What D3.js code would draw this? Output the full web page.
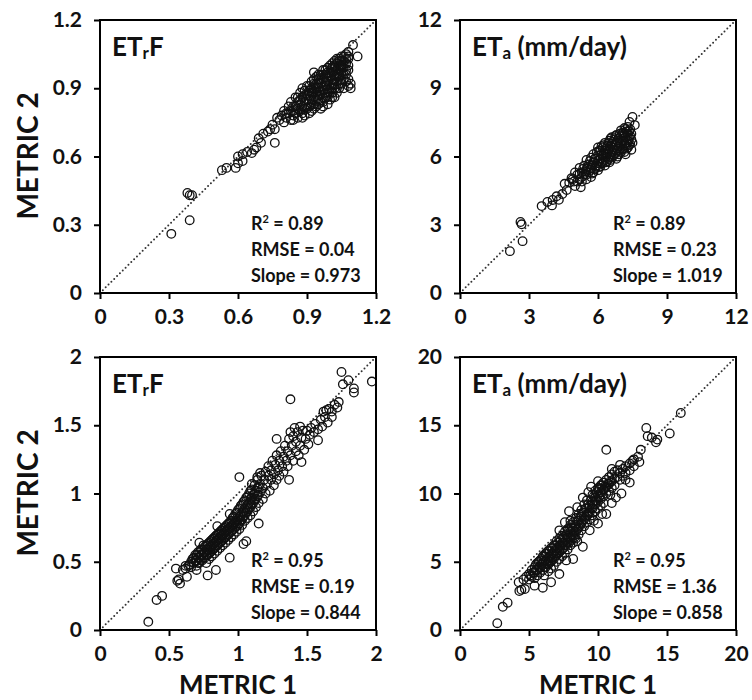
<!DOCTYPE html>
<html>
<head>
<meta charset="utf-8">
<script src="https://cdn.jsdelivr.net/npm/d3@7"></script>
<style>
  body { margin: 0; background: #fff; }
  svg { display: block; font-family: Lato, "Open Sans", sans-serif; font-weight: bold; }
</style>
</head>
<body>
<div id="chart"></div>
<script>
// ---- data (METRIC 1 on x, METRIC 2 on y) ----
const ticksEtrfTop = [0, 0.3, 0.6, 0.9, 1.2];
const ticksEtaTop = [0, 3, 6, 9, 12];
const ticksEtrfBottom = [0, 0.5, 1, 1.5, 2];
const ticksEtaBottom = [0, 5, 10, 15, 20];

const statsEtrfTop = ["0.89", "0.04", "0.973"];
const statsEtaTop = ["0.89", "0.23", "1.019"];
const statsEtrfBottom = ["0.95", "0.19", "0.844"];
const statsEtaBottom = ["0.95", "1.36", "0.858"];

const etrfTop = [
  [0.31,0.26],[0.38,0.44],[0.39,0.43],[0.40,0.43],[0.39,0.32],
  [0.53,0.54],[0.55,0.55],[0.59,0.55],[0.60,0.57],[0.60,0.60],[0.62,0.58],[0.62,0.61],
  [0.64,0.62],[0.66,0.615],[0.67,0.63],[0.68,0.64],[0.69,0.68],[0.71,0.70],[0.70,0.66],
  [0.73,0.71],[0.74,0.72],[0.76,0.66],[0.75,0.74],[0.77,0.77],[0.76,0.72],
  [0.78,0.76],[0.79,0.78],[0.80,0.75],[0.80,0.80],[0.81,0.77],[0.82,0.79],[0.82,0.82],
  [0.83,0.76],[0.83,0.84],[0.84,0.80],[0.84,0.78],[0.85,0.82],[0.85,0.86],[0.86,0.77],
  [0.86,0.84],[0.87,0.80],[0.87,0.88],[0.88,0.82],[0.88,0.86],[0.88,0.90],[0.89,0.78],
  [0.89,0.84],[0.90,0.81],[0.90,0.87],[0.90,0.91],[0.91,0.85],[0.91,0.89],[0.92,0.80],
  [0.92,0.83],[0.92,0.88],[0.92,0.93],[0.93,0.86],[0.93,0.90],[0.93,0.97],[0.94,0.82],
  [0.94,0.88],[0.94,0.92],[0.94,0.95],[0.95,0.85],[0.95,0.90],[0.95,0.94],[0.96,0.81],
  [0.96,0.87],[0.96,0.92],[0.96,0.96],[0.97,0.84],[0.97,0.89],[0.97,0.94],[0.97,0.98],
  [0.98,0.86],[0.98,0.91],[0.98,0.96],[0.99,0.88],[0.99,0.93],[0.99,0.99],[1.00,0.85],
  [1.00,0.90],[1.00,0.95],[1.00,1.00],[1.01,0.88],[1.01,0.92],[1.01,0.97],[1.02,0.90],
  [1.02,0.94],[1.02,0.99],[1.02,1.02],[1.03,0.88],[1.03,0.93],[1.03,0.96],[1.03,1.01],
  [1.04,0.90],[1.04,0.95],[1.04,0.98],[1.04,1.03],[1.05,0.92],[1.05,0.97],[1.05,1.00],
  [1.05,1.04],[1.06,0.94],[1.06,0.99],[1.06,1.02],[1.07,0.93],[1.07,0.96],[1.07,1.01],
  [1.07,1.05],[1.08,0.94],[1.08,0.98],[1.08,1.03],[1.08,1.06],[1.09,0.92],[1.10,1.09],
  [1.12,1.04],[0.84,0.76],[0.88,0.77],[0.91,0.79],[0.93,0.81],[0.99,0.83],[1.02,0.86],
  [1.06,0.90],[1.09,0.90],[1.08,0.91],
  [0.81,0.79],[0.83,0.80],[0.84,0.82],[0.85,0.79],[0.86,0.81],[0.86,0.86],[0.87,0.83],
  [0.87,0.85],[0.88,0.79],[0.89,0.81],[0.89,0.87],[0.89,0.89],[0.90,0.83],[0.90,0.85],
  [0.91,0.82],[0.91,0.87],[0.91,0.91],[0.92,0.85],[0.92,0.90],[0.93,0.83],[0.93,0.88],
  [0.93,0.92],[0.93,0.94],[0.94,0.85],[0.94,0.90],[0.95,0.87],[0.95,0.92],[0.95,0.96],
  [0.96,0.84],[0.96,0.89],[0.96,0.94],[0.97,0.86],[0.97,0.91],[0.97,0.96],[0.98,0.88],
  [0.98,0.93],[0.98,0.98],[0.99,0.86],[0.99,0.90],[0.99,0.95],[0.99,0.97],[1.00,0.88],
  [1.00,0.92],[1.00,0.97],[1.01,0.90],[1.01,0.94],[1.01,0.99],[1.01,1.01],[1.02,0.92],
  [1.02,0.96],[1.02,1.00],[1.03,0.90],[1.03,0.95],[1.03,0.98],[1.03,1.03],[1.04,0.92],
  [1.04,0.96],[1.04,1.00],[1.04,1.02],[1.05,0.94],[1.05,0.99],[1.05,1.02],[1.06,0.96],
  [1.06,1.00],[1.06,1.04],[1.07,0.98],[1.07,1.03],[1.08,1.00],[1.08,1.04],[0.97,0.82],
  [0.95,0.83],[1.01,0.86]
];

const etaTop = [
  [2.17,1.84],[2.63,3.12],[2.68,3.02],[2.72,2.28],[3.55,3.82],[3.8,4.0],[4.0,3.85],
  [4.03,4.09],[4.2,4.25],[4.3,4.1],[4.45,4.35],[4.64,4.53],[4.55,4.8],[4.75,4.85],
  [4.95,4.9],[5.25,4.65],[4.85,5.05],[5.0,4.7],
  [4.9,5.0],[5.0,5.3],[5.1,4.9],[5.1,5.2],[5.2,5.5],[5.2,5.0],[5.3,5.3],[5.3,4.9],
  [5.4,5.6],[5.4,5.2],[5.5,5.0],[5.5,5.45],[5.5,5.85],[5.6,5.3],[5.6,5.65],[5.7,5.1],
  [5.7,5.5],[5.7,5.95],[5.8,5.3],[5.8,5.75],[5.8,6.1],[5.9,5.5],[5.9,5.9],[6.0,5.4],
  [6.0,5.7],[6.0,6.05],[6.0,6.4],[6.1,5.55],[6.1,5.9],[6.1,6.25],[6.2,5.7],[6.2,6.05],
  [6.2,6.4],[6.3,5.6],[6.3,5.9],[6.3,6.25],[6.3,6.6],[6.4,5.8],[6.4,6.1],[6.4,6.45],
  [6.5,5.75],[6.5,6.0],[6.5,6.3],[6.5,6.7],[6.6,5.95],[6.6,6.2],[6.6,6.55],[6.6,6.85],
  [6.7,6.05],[6.7,6.4],[6.7,6.75],[6.8,5.9],[6.8,6.25],[6.8,6.6],[6.8,6.95],[6.9,6.1],
  [6.9,6.45],[6.9,6.8],[7.0,6.2],[7.0,6.55],[7.0,6.9],[7.0,7.15],[7.1,6.35],[7.1,6.7],
  [7.1,7.05],[7.2,6.1],[7.2,6.5],[7.2,6.85],[7.2,7.2],[7.3,6.4],[7.3,6.7],[7.3,7.0],
  [7.3,7.3],[7.4,6.55],[7.4,6.9],[7.45,6.3],[7.4,7.2],[7.37,7.52],[7.5,7.74],[7.6,7.38],
  [7.5,6.6],
  [5.2,5.25],[5.3,5.1],[5.35,5.45],[5.45,5.35],[5.5,5.2],[5.55,5.55],[5.65,5.4],[5.65,5.8],
  [5.75,5.25],[5.75,5.65],[5.85,5.45],[5.85,5.9],[5.95,5.6],[5.95,6.2],[6.05,5.55],
  [6.05,5.85],[6.05,6.25],[6.15,5.75],[6.15,6.1],[6.15,6.45],[6.25,5.8],[6.25,6.15],
  [6.25,6.5],[6.35,5.75],[6.35,6.0],[6.35,6.35],[6.45,5.9],[6.45,6.2],[6.45,6.6],
  [6.55,5.85],[6.55,6.1],[6.55,6.45],[6.55,6.8],[6.65,6.05],[6.65,6.3],[6.65,6.65],
  [6.75,6.15],[6.75,6.5],[6.75,6.9],[6.85,6.0],[6.85,6.35],[6.85,6.7],[6.95,6.25],
  [6.95,6.6],[6.95,7.0],[7.05,6.3],[7.05,6.65],[7.05,7.0],[7.15,6.2],[7.15,6.55],
  [7.15,6.95],[7.15,7.25],[7.25,6.35],[7.25,6.6],[7.25,7.1],[7.35,6.5],[7.35,6.8],
  [7.35,7.1],[7.45,6.75],[7.45,7.0]
];

const etrfBottom = [
  [0.35,0.06],[0.41,0.22],[0.45,0.25],[0.55,0.45],[0.56,0.36],[0.58,0.34],[0.57,0.37],
  [0.60,0.44],[0.63,0.39],[0.62,0.47],[0.65,0.48],[0.70,0.44],[0.78,0.40],[0.84,0.44],
  [0.94,0.53],[1.06,0.65],[1.15,0.78],[1.37,1.10],[1.38,1.69],[1.01,1.12],[1.10,1.07],
  [1.28,1.40],[1.58,1.39],[1.75,1.89],[1.76,1.80],[1.80,1.83],[1.84,1.77],[1.84,1.74],
  [1.97,1.82],[1.46,1.23],[1.68,1.56],[0.72,0.64],[0.85,0.76],[0.94,0.85],[1.14,1.12],
  [1.16,1.15],[1.04,0.63],
  [0.62,0.45],[0.64,0.47],[0.66,0.50],[0.66,0.46],[0.68,0.53],[0.68,0.49],[0.70,0.51],
  [0.70,0.55],[0.70,0.47],[0.72,0.53],[0.72,0.57],[0.72,0.49],[0.74,0.55],[0.74,0.59],
  [0.74,0.51],[0.75,0.62],[0.76,0.53],[0.76,0.57],[0.76,0.61],[0.77,0.49],
  [0.78,0.55],[0.78,0.59],[0.78,0.63],[0.79,0.52],[0.80,0.57],[0.80,0.61],[0.80,0.65],
  [0.81,0.54],[0.82,0.59],[0.82,0.63],[0.82,0.67],[0.83,0.56],[0.84,0.61],[0.84,0.65],
  [0.84,0.69],[0.85,0.58],[0.86,0.63],[0.86,0.67],[0.86,0.71],[0.87,0.60],[0.88,0.65],
  [0.88,0.69],[0.88,0.73],[0.89,0.62],[0.90,0.67],[0.90,0.71],[0.90,0.75],[0.91,0.64],
  [0.92,0.69],[0.92,0.73],[0.92,0.77],[0.93,0.66],[0.94,0.71],[0.94,0.75],[0.94,0.79],
  [0.95,0.68],[0.96,0.73],[0.96,0.77],[0.96,0.82],[0.97,0.70],[0.98,0.75],[0.98,0.79],
  [0.98,0.85],[0.99,0.72],[1.00,0.77],[1.00,0.81],[1.00,0.88],[1.01,0.74],[1.02,0.80],
  [1.02,0.84],[1.02,0.91],[1.03,0.77],[1.04,0.83],[1.04,0.87],[1.04,0.94],[1.05,0.80],
  [1.06,0.86],[1.06,0.90],[1.06,0.97],[1.07,0.82],[1.08,0.89],[1.08,0.93],[1.08,1.00],
  [1.09,0.84],
  [1.10,0.92],[1.10,0.97],[1.10,1.03],[1.11,0.87],[1.12,0.95],[1.12,1.00],[1.12,1.06],
  [1.13,0.90],[1.14,0.98],[1.14,1.04],[1.14,1.10],[1.15,0.93],[1.16,1.01],[1.16,1.07],
  [1.17,1.13],[1.18,0.96],[1.18,1.04],[1.19,1.10],[1.20,1.00],[1.20,1.16],[1.21,1.07],
  [1.22,1.13],[1.22,1.20],[1.23,1.02],[1.24,1.10],[1.24,1.17],[1.25,1.24],[1.26,1.06],
  [1.26,1.14],[1.27,1.21],[1.28,1.10],[1.28,1.28],[1.29,1.17],[1.30,1.24],[1.30,1.13],
  [1.31,1.31],[1.32,1.20],[1.33,1.27],[1.33,1.16],[1.34,1.35],[1.35,1.24],[1.36,1.31],
  [1.36,1.20],[1.37,1.40],[1.38,1.28],[1.38,1.45],[1.39,1.35],[1.40,1.24],[1.40,1.42],
  [1.41,1.48],[1.42,1.31],[1.42,1.38],[1.43,1.45],[1.44,1.28],[1.45,1.35],[1.45,1.49],
  [1.46,1.41],[1.47,1.46],[1.48,1.32],[1.49,1.40],[1.50,1.46],[1.51,1.36],
  [1.52,1.43],[1.53,1.48],[1.55,1.45],[1.56,1.51],[1.58,1.47],[1.60,1.54],[1.61,1.49],
  [1.62,1.60],[1.63,1.56],[1.64,1.61],[1.65,1.52],[1.66,1.62],[1.68,1.60],[1.70,1.65],
  [1.72,1.63],[1.73,1.67],
  [0.67,0.52],[0.69,0.51],[0.69,0.55],[0.71,0.49],[0.71,0.53],[0.71,0.57],[0.73,0.51],
  [0.73,0.55],[0.73,0.59],[0.75,0.53],[0.75,0.57],[0.77,0.55],[0.77,0.59],[0.77,0.62],
  [0.79,0.56],[0.79,0.60],[0.79,0.64],[0.81,0.58],[0.81,0.62],[0.81,0.66],[0.83,0.60],
  [0.83,0.64],[0.83,0.68],[0.85,0.62],[0.85,0.66],[0.85,0.70],[0.87,0.64],[0.87,0.68],
  [0.87,0.72],[0.89,0.66],[0.89,0.70],[0.89,0.74],[0.91,0.68],[0.91,0.72],[0.91,0.76],
  [0.93,0.70],[0.93,0.74],[0.93,0.78],[0.95,0.72],[0.95,0.76],[0.95,0.80],[0.97,0.74],
  [0.97,0.78],[0.97,0.83],[0.99,0.76],[0.99,0.80],[0.99,0.86],[1.01,0.78],[1.01,0.83],
  [1.01,0.89],[1.03,0.81],[1.03,0.86],[1.03,0.92],[1.05,0.84],[1.05,0.89],[1.05,0.95],
  [1.07,0.87],[1.07,0.92],[1.07,0.98],[1.09,0.90],[1.09,0.96],[1.09,1.02],[1.11,0.93],
  [1.11,0.99],[1.13,0.96],[1.13,1.02],[1.15,0.99],[1.15,1.05]
];

const etaBottom = [
  [2.7,0.5],[3.1,1.7],[3.45,2.0],[4.3,2.85],[4.45,2.95],[4.7,3.0],[4.25,3.5],[5.4,3.25],
  [6.0,3.1],[6.6,3.5],[7.2,4.1],[8.9,6.1],[7.9,8.7],[10.6,8.5],[10.6,13.2],[12.3,10.8],
  [13.5,14.8],[13.6,14.2],[13.9,14.1],[14.2,13.75],[14.3,13.95],[15.2,14.4],[16.0,15.9],
  [13.1,13.2],[12.5,12.4],[9.4,7.3],[10.0,7.8],[11.3,9.7],[8.2,5.2],[9.7,8.0],[10.3,8.5],
  [11.0,9.3],[11.7,10.0],[8.5,6.5],[7.7,5.1],[10.9,9.9],
  [8.9,9.7],[9.5,10.5],[10.0,10.9],[9.3,10.1],[8.5,9.0],[7.6,7.9],[7.2,7.3],[11.0,11.8],
  [11.6,12.1],[8.0,8.0],
  [4.6,3.7],[4.8,3.9],[5.0,4.1],[5.0,3.7],[5.2,4.4],[5.2,3.9],[5.4,4.6],[5.4,4.2],
  [5.4,3.8],[5.6,4.9],[5.6,4.4],[5.6,4.0],[5.8,5.1],[5.8,4.6],[5.8,4.2],[6.0,5.4],
  [6.0,4.9],[6.0,4.4],[6.1,4.0],[6.2,5.6],[6.2,5.1],[6.2,4.6],[6.4,5.8],[6.4,5.3],
  [6.4,4.8],[6.4,4.3],[6.6,6.0],[6.6,5.5],[6.6,5.0],[6.6,4.5],[6.8,6.2],[6.8,5.7],
  [6.8,5.2],[6.8,4.7],[7.0,6.5],[7.0,6.0],[7.0,5.5],[7.0,5.0],[7.2,6.7],[7.2,6.2],
  [7.2,5.7],[7.2,5.2],[7.4,6.9],[7.4,6.4],[7.4,5.9],[7.4,5.4],[7.6,7.2],[7.6,6.7],
  [7.6,6.2],[7.6,5.6],[7.8,7.4],[7.8,6.9],[7.8,6.4],[7.8,5.9],[8.0,7.7],[8.0,7.2],
  [8.0,6.7],[8.0,6.2],[8.2,7.9],[8.2,7.4],[8.2,6.9],[8.2,6.4],[8.4,8.2],[8.4,7.7],
  [8.4,7.2],[8.4,6.7],[8.6,8.5],[8.6,8.0],[8.6,7.5],[8.6,7.0],[8.8,8.8],[8.8,8.3],
  [8.8,7.8],[8.8,7.3],[9.0,9.2],[9.0,8.6],[9.0,8.1],[9.0,7.6],[9.2,9.5],[9.2,8.9],
  [9.2,8.4],[9.2,7.9],[9.4,9.1],[9.4,8.6],[9.4,8.1],[9.6,9.9],[9.6,9.4],[9.6,8.9],
  [9.6,8.4],[9.8,10.2],[9.8,9.7],[9.8,9.2],[9.8,8.7],[10.0,10.4],[10.0,9.9],[10.0,9.4],
  [10.0,8.9],[10.2,10.6],[10.2,10.1],[10.2,9.6],[10.2,9.1],[10.4,10.8],[10.4,10.3],
  [10.4,9.8],[10.4,9.3],[10.6,11.0],[10.6,10.5],[10.6,10.0],[10.8,11.2],[10.8,10.7],
  [10.8,10.2],[11.0,11.4],[11.0,10.9],[11.0,10.4],[11.2,11.6],[11.2,11.1],[11.2,10.6],
  [11.4,11.7],[11.4,11.2],[11.6,11.5],[11.6,11.0],[11.8,11.8],[11.8,11.3],[12.0,12.0],
  [12.0,11.5],[12.0,11.0],[12.3,12.2],[12.3,11.7],[12.6,12.5],[12.6,12.0],[12.9,12.7],
  [13.0,12.3],
  [5.1,4.0],[5.3,4.2],[5.5,4.4],[5.5,4.8],[5.7,4.6],[5.7,5.0],[5.9,4.8],[5.9,5.2],
  [6.1,5.0],[6.1,5.4],[6.1,4.6],[6.3,5.2],[6.3,5.6],[6.3,4.8],[6.5,5.4],[6.5,5.8],
  [6.5,5.0],[6.7,5.6],[6.7,6.0],[6.7,5.2],[6.9,5.8],[6.9,6.2],[6.9,5.4],[7.1,6.0],
  [7.1,6.4],[7.1,5.6],[7.3,6.2],[7.3,6.6],[7.3,5.8],[7.5,6.4],[7.5,6.8],[7.5,6.0],
  [7.7,6.6],[7.7,7.0],[7.7,6.2],[7.9,6.8],[7.9,7.3],[7.9,6.4],[8.1,7.0],[8.1,7.5],
  [8.1,6.6],[8.3,7.2],[8.3,7.7],[8.3,6.8],[8.5,7.4],[8.5,8.0],[8.7,7.7],[8.7,8.3],
  [8.9,8.0],[8.9,8.6],[9.1,8.3],[9.1,8.9],[9.3,8.6],[9.3,9.2],[9.5,8.9],[9.5,9.5],
  [9.7,9.2],[9.7,9.8],[9.9,9.5],[9.9,10.1],[10.1,9.8],[10.1,10.4],[10.3,10.1],
  [10.3,10.6],[10.5,10.4],[10.7,10.7],[10.9,10.9]
];

// ---- layout ----
const W = 752, H = 700;
const pw = 276, ph = 273;

const panels = [
  { pts: etrfTop, ticks: ticksEtrfTop, stats: statsEtrfTop, main: "ET", sub: "r", tail: "F", left: 100, top: 20 },
  { pts: etaTop, ticks: ticksEtaTop, stats: statsEtaTop, main: "ET", sub: "a", tail: " (mm/day)", left: 460, top: 20 },
  { pts: etrfBottom, ticks: ticksEtrfBottom, stats: statsEtrfBottom, main: "ET", sub: "r", tail: "F", left: 100, top: 357 },
  { pts: etaBottom, ticks: ticksEtaBottom, stats: statsEtaBottom, main: "ET", sub: "a", tail: " (mm/day)", left: 460, top: 357 }
];

const svg = d3.select("#chart").append("svg")
    .attr("width", W)
    .attr("height", H);

panels.forEach(p => {
    const max = p.ticks[p.ticks.length - 1];
    const x = d3.scaleLinear().domain([0, max]).range([0, pw]);
    const y = d3.scaleLinear().domain([0, max]).range([ph, 0]);

    const g = svg.append("g").attr("transform", `translate(${p.left},${p.top})`);

    // 1:1 line
    g.append("line")
        .attr("x1", x(0)).attr("y1", y(0))
        .attr("x2", x(max)).attr("y2", y(max))
        .attr("stroke", "#333")
        .attr("stroke-width", 2)
        .attr("stroke-linecap", "round")
        .attr("stroke-dasharray", "0,4");

    g.selectAll("circle")
        .data(p.pts)
        .join("circle")
        .attr("cx", d => x(d[0]))
        .attr("cy", d => y(d[1]))
        .attr("r", 4.3)
        .attr("fill", "none")
        .attr("stroke", "#111")
        .attr("stroke-width", 1.3);

    const xAxis = g.append("g")
        .attr("transform", `translate(0,${ph})`)
        .call(d3.axisBottom(x).tickValues(p.ticks).tickSize(6).tickSizeOuter(0).tickPadding(10).tickFormat(d3.format("~g")));
    const yAxis = g.append("g")
        .call(d3.axisLeft(y).tickValues(p.ticks).tickSize(6).tickSizeOuter(0).tickPadding(12).tickFormat(d3.format("~g")));

    [xAxis, yAxis].forEach(a => {
        a.selectAll("line").attr("stroke", "#000").attr("stroke-width", 2);
        a.select(".domain").remove();
        a.selectAll("text")
            .attr("fill", "#111")
            .style("font-family", "Lato, 'Open Sans', sans-serif")
            .style("font-weight", "bold")
            .style("font-size", "21px");
    });

    g.append("rect")
        .attr("width", pw).attr("height", ph)
        .attr("fill", "none")
        .attr("stroke", "#000")
        .attr("stroke-width", 2);

    // panel title
    const t = g.append("text")
        .attr("x", 12).attr("y", 36)
        .attr("font-size", "26px")
        .attr("fill", "#111")
        .text(p.main);
    t.append("tspan").attr("font-size", "17px").attr("dy", 3).text(p.sub);
    t.append("tspan").attr("dy", -3).text(p.tail);

    // statistics
    const labels = ["R", "RMSE = ", "Slope = "];
    p.stats.forEach((v, i) => {
        const s = g.append("text")
            .attr("x", p.left === 100 ? 151 : 153)
            .attr("y", 210 + i * 26)
            .attr("font-size", "18px")
            .attr("fill", "#111");
        if (i === 0) {
            s.text("R");
            s.append("tspan").attr("font-size", "11px").attr("dy", -7).text("2");
            s.append("tspan").attr("dy", 7).text(" = " + v);
        } else {
            s.text(labels[i] + v);
        }
    });
});

// axis titles
[156, 493].forEach(cy => {
    svg.append("text")
        .attr("transform", `translate(38,${cy}) rotate(-90)`)
        .attr("text-anchor", "middle")
        .attr("font-size", "28px")
        .attr("fill", "#111")
        .text("METRIC 2");
});
[238, 598].forEach(cx => {
    svg.append("text")
        .attr("x", cx).attr("y", 694)
        .attr("text-anchor", "middle")
        .attr("font-size", "26px")
        .attr("fill", "#111")
        .text("METRIC 1");
});
</script>
</body>
</html>
